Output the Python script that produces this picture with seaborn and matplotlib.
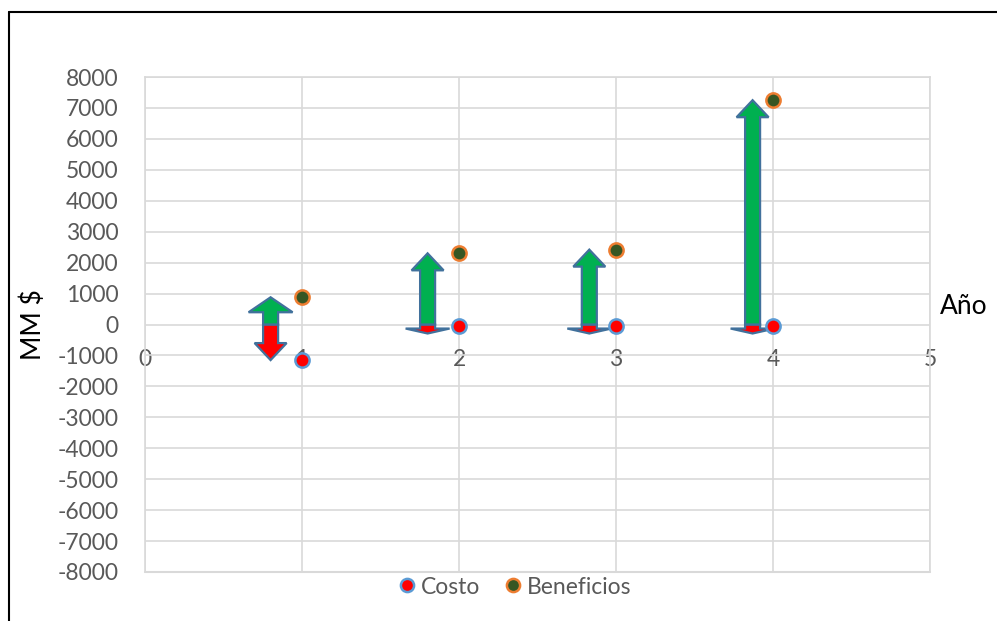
import matplotlib
matplotlib.use("Agg")
import matplotlib.pyplot as plt
from matplotlib.lines import Line2D
from matplotlib.patches import Polygon
from matplotlib.transforms import IdentityTransform
import pandas as pd
import seaborn as sns

# --- data -------------------------------------------------------------
years = [1, 2, 3, 4]
costo = [-1150, -50, -50, -50]
beneficios = [880, 2300, 2420, 7250]
x_ticks = [0, 1, 2, 3, 4, 5]
y_ticks = list(range(-8000, 8001, 1000))
series_names = ["Costo", "Beneficios"]

# --- style ------------------------------------------------------------
sns.set_theme(style="whitegrid")
plt.rcParams["font.family"] = ["Lato", "DejaVu Sans"]
plt.rcParams["axes.unicode_minus"] = False

GRID = "#d9d9d9"
TICK_TXT = "#595959"
RED = "#ff0000"
GREEN_DOT = "#375623"
BLUE_EDGE = "#5b9bd5"
ORANGE_EDGE = "#ed7d31"
ARROW_GREEN = "#00b050"
ARROW_EDGE = "#41719c"

W, H, DPI = 997, 621, 100
fig = plt.figure(figsize=(W / DPI, H / DPI), dpi=DPI)
fig.patch.set_facecolor("white")

ax_left, ax_right, ax_top, ax_bottom = 145, 930, 77, 572
ax = fig.add_axes([ax_left / W, 1 - ax_bottom / H,
                   (ax_right - ax_left) / W, (ax_bottom - ax_top) / H])
ax.set_facecolor("white")

ax.set_xlim(x_ticks[0], x_ticks[-1])
ax.set_ylim(y_ticks[0], y_ticks[-1])
ax.set_xticks(x_ticks)
ax.set_yticks(y_ticks)
ax.grid(True, color=GRID, linewidth=1.2)

for side in ("left", "right", "top"):
    ax.spines[side].set_color(GRID)
    ax.spines[side].set_linewidth(1.2)
# x labels sit on the zero line; frame bottom drawn separately
ax.spines["bottom"].set_position(("data", 0))
ax.spines["bottom"].set_visible(False)
ax.axhline(y_ticks[0], color=GRID, linewidth=1.5, clip_on=False, zorder=1)

ax.tick_params(axis="y", length=0, pad=19, labelsize=16.5, labelcolor=TICK_TXT)
ax.tick_params(axis="x", length=0, pad=18, labelsize=16.5, labelcolor=TICK_TXT)

ax.set_ylabel("MM $", fontsize=19, color="black")
ax.yaxis.set_label_coords((46 - ax_left) / (ax_right - ax_left),
                          (ax_bottom - 312) / (ax_bottom - ax_top))

fig.text(964 / W, 1 - 307 / H, "Año", fontsize=19, color="black",
         ha="center", va="center")

# --- arrows (Excel-like block arrows, drawn in pixel space) -----------
fig.canvas.draw()


def block_arrow(x, y_base, y_tip, face, shaft_w=15, head_w=32, head_len=17,
                min_len=0):
    bx, by = ax.transData.transform((x, y_base))
    _, ty = ax.transData.transform((x, y_tip))
    sign = 1 if ty >= by else -1
    length = max(abs(ty - by), min_len)
    ty = by + sign * length
    hl = min(head_len, 0.55 * length)
    hw = head_w if length >= 30 else head_w + 12
    neck = ty - sign * hl
    pts = [
        (bx - shaft_w / 2, by),
        (bx - shaft_w / 2, neck),
        (bx - hw / 2, neck),
        (bx, ty),
        (bx + hw / 2, neck),
        (bx + shaft_w / 2, neck),
        (bx + shaft_w / 2, by),
    ]
    poly = Polygon(pts, closed=True, facecolor=face, edgecolor=ARROW_EDGE,
                   linewidth=1.6, transform=IdentityTransform(), zorder=3,
                   joinstyle="miter")
    ax.add_patch(poly)


arrow_offset = [-0.20, -0.20, -0.17, -0.13]
for yr, c, b, off in zip(years, costo, beneficios, arrow_offset):
    block_arrow(yr + off, 0, c, RED, min_len=9)
    block_arrow(yr + off, 0, b, ARROW_GREEN)

# --- markers ----------------------------------------------------------
df = pd.DataFrame({
    "Año": years * 2,
    "valor": costo + beneficios,
    "serie": [series_names[0]] * len(years) + [series_names[1]] * len(years),
})
for name, face, edge in zip(series_names, [RED, GREEN_DOT], [BLUE_EDGE, ORANGE_EDGE]):
    sns.scatterplot(data=df[df["serie"] == name], x="Año", y="valor",
                    color=face, edgecolor=edge, linewidth=1.8, s=105,
                    ax=ax, zorder=5, legend=False)
ax.set_xlabel("")
ax.set_ylabel("MM $", fontsize=19, color="black")

handles = [
    Line2D([], [], marker="o", linestyle="none", markersize=9.5,
           markerfacecolor=RED, markeredgecolor=BLUE_EDGE, markeredgewidth=1.8),
    Line2D([], [], marker="o", linestyle="none", markersize=9.5,
           markerfacecolor=GREEN_DOT, markeredgecolor=ORANGE_EDGE, markeredgewidth=1.8),
]
fig.legend(handles, series_names, loc="center",
           bbox_to_anchor=(515 / W, 1 - 587 / H), ncol=2, frameon=False,
           fontsize=16.5, labelcolor=TICK_TXT, handlelength=0.7,
           handletextpad=0.25, columnspacing=1.1, borderpad=0)

# --- outer frame (left and top edges) ---------------------------------
fig.add_artist(Line2D([9 / W, 9 / W], [0, 1 - 12 / H], color="black",
                      linewidth=1.5, transform=fig.transFigure))
fig.add_artist(Line2D([9 / W, 1], [1 - 12 / H, 1 - 12 / H], color="black",
                      linewidth=1.5, transform=fig.transFigure))

fig.savefig("out.png", dpi=DPI, facecolor="white")
